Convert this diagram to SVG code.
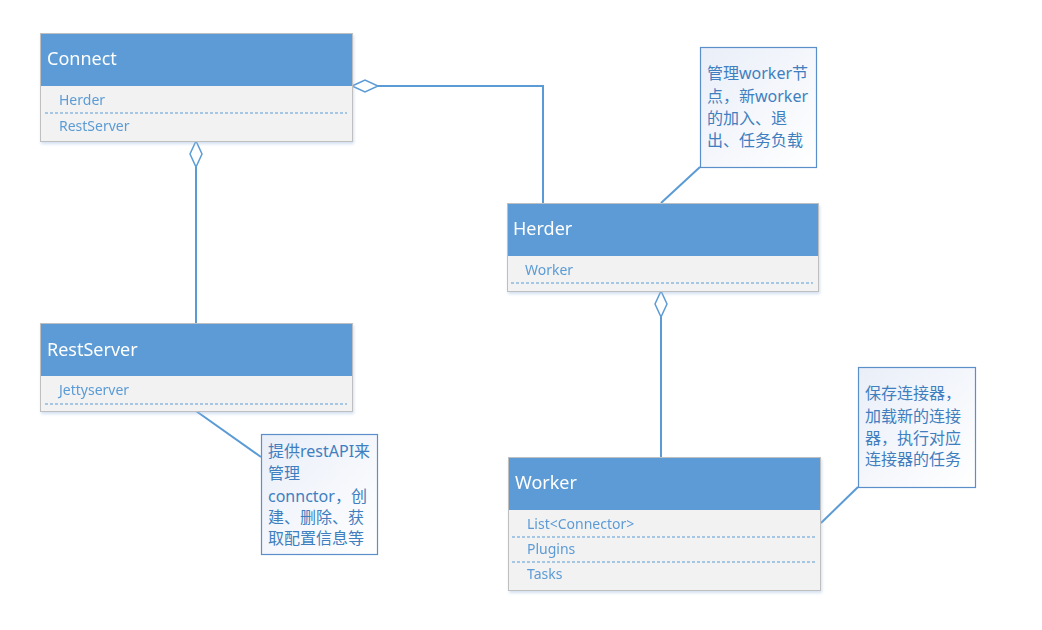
<svg xmlns="http://www.w3.org/2000/svg" width="1042" height="630" viewBox="0 0 1042 630">
<defs>
<linearGradient id="ng" x1="0" y1="0" x2="1" y2="1">
<stop offset="0" stop-color="#e9eef8"/>
<stop offset="1" stop-color="#ffffff"/>
</linearGradient>
<filter id="sh" x="-5%" y="-5%" width="110%" height="120%">
<feDropShadow dx="1" dy="2" stdDeviation="1.5" flood-color="#9dbbe0" flood-opacity="0.45"/>
</filter>
</defs>
<style>
.body{fill:#f2f2f2;stroke:#bfbfbf;stroke-width:1}
.head{fill:#5b9bd5}
.title{font-family:"Segoe UI","Noto Sans","Liberation Sans",sans-serif;font-size:18px;fill:#ffffff}
.item{font-family:"Segoe UI","Noto Sans","Liberation Sans",sans-serif;font-size:14px;fill:#5b9bd5}
.dash{stroke:#5b9bd5;stroke-width:1.2;stroke-dasharray:3 2}
.note{fill:url(#ng);stroke:#5b8fc9;stroke-width:1.2}
.ntext{font-family:"Noto Sans","Noto Sans CJK SC",sans-serif;font-size:16px;fill:#3f7fc0}
.conn{fill:none;stroke:#5b9bd5;stroke-width:2}
.dia{fill:#ffffff;stroke:#5b9bd5;stroke-width:1.5}
</style>
<g id="connectors">
<polyline class="conn" points="378,86 543,86 543,204"/>
<polygon class="dia" points="352,86 365,80 378,86 365,92"/>
<line class="conn" x1="196" y1="167" x2="196" y2="323"/>
<polygon class="dia" points="196,141 202,154 196,167 190,154"/>
<line class="conn" x1="661" y1="317" x2="661" y2="457"/>
<polygon class="dia" points="661,291 667,304 661,317 655,304"/>
<line class="conn" x1="661" y1="203" x2="700" y2="167" stroke-width="1.5"/>
<line class="conn" x1="196" y1="411" x2="261" y2="457" stroke-width="1.5"/>
<line class="conn" x1="821" y1="523" x2="858" y2="487" stroke-width="1.5"/>
</g>
<g id="connect" filter="url(#sh)">
<rect class="body" x="40.5" y="33.5" width="312" height="108"/>
<rect class="head" x="41" y="34" width="311" height="52"/>
<text class="title" x="47" y="65">Connect</text>
<text class="item" x="59" y="105">Herder</text>
<line class="dash" x1="45" y1="113" x2="347" y2="113"/>
<text class="item" x="59" y="131">RestServer</text>
</g>
<g id="herder" filter="url(#sh)">
<rect class="body" x="507.5" y="203.5" width="311" height="88"/>
<rect class="head" x="508" y="204" width="310" height="52"/>
<text class="title" x="513" y="235">Herder</text>
<text class="item" x="525" y="275">Worker</text>
<line class="dash" x1="511" y1="283" x2="813" y2="283"/>
</g>
<g id="restserver" filter="url(#sh)">
<rect class="body" x="40.5" y="323.5" width="312" height="88"/>
<rect class="head" x="41" y="324" width="311" height="52"/>
<text class="title" x="47" y="356">RestServer</text>
<text class="item" x="59" y="395">Jettyserver</text>
<line class="dash" x1="45" y1="404" x2="347" y2="404"/>
</g>
<g id="worker" filter="url(#sh)">
<rect class="body" x="508.5" y="457.5" width="312" height="133"/>
<rect class="head" x="509" y="458" width="311" height="52"/>
<text class="title" x="515" y="489">Worker</text>
<text class="item" x="527" y="529">List&lt;Connector&gt;</text>
<line class="dash" x1="512" y1="537" x2="816" y2="537"/>
<text class="item" x="527" y="554">Plugins</text>
<line class="dash" x1="512" y1="562" x2="816" y2="562"/>
<text class="item" x="527" y="579">Tasks</text>
</g>
<g id="note-herder">
<rect class="note" x="700.5" y="47.5" width="116" height="120"/>
<text class="ntext" x="707" y="79">管理worker节</text>
<text class="ntext" x="707" y="102">点，新worker</text>
<text class="ntext" x="707" y="124">的加入、退</text>
<text class="ntext" x="707" y="146">出、任务负载</text>
</g>
<g id="note-restserver">
<rect class="note" x="261.5" y="434.5" width="116" height="120"/>
<text class="ntext" x="268" y="457">提供restAPI来</text>
<text class="ntext" x="268" y="479">管理</text>
<text class="ntext" x="268" y="502">connctor，创</text>
<text class="ntext" x="268" y="523">建、删除、获</text>
<text class="ntext" x="268" y="544">取配置信息等</text>
</g>
<g id="note-worker">
<rect class="note" x="858.5" y="367.5" width="117" height="120"/>
<text class="ntext" x="865" y="399">保存连接器，</text>
<text class="ntext" x="865" y="422">加载新的连接</text>
<text class="ntext" x="865" y="444">器，执行对应</text>
<text class="ntext" x="865" y="465">连接器的任务</text>
</g>
</svg>
